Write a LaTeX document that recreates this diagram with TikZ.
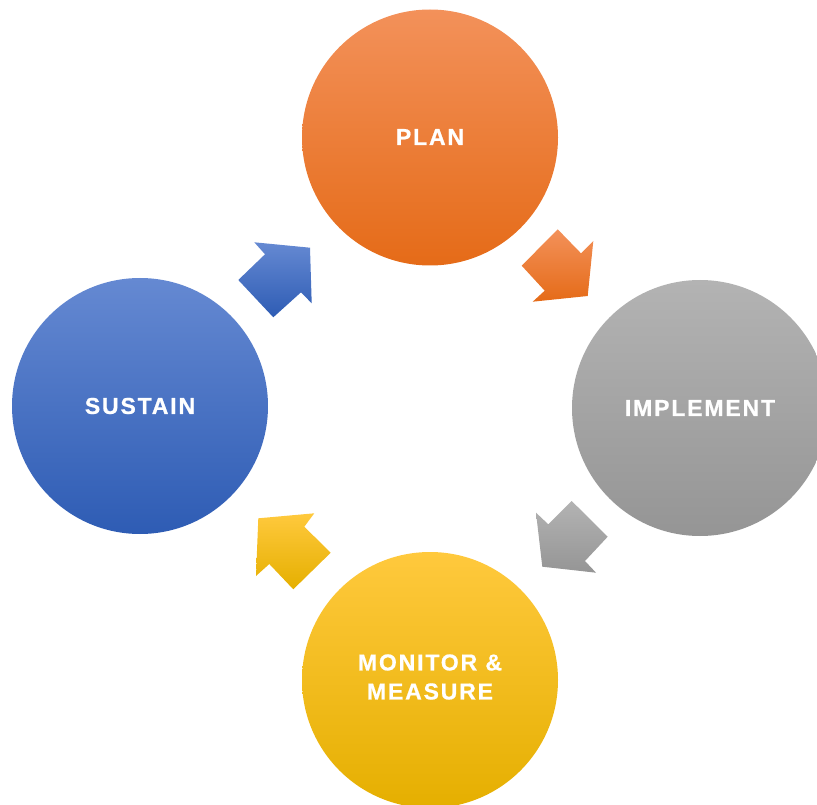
\documentclass[tikz,border=0pt]{standalone}
\usepackage{fontspec}
\newfontfamily\cyclefont[LetterSpace=8, FakeBold=0.8]{Liberation Sans Bold}
\definecolor{planT}{HTML}{F3915A}
\definecolor{planM}{HTML}{F57E2C}
\definecolor{planB}{HTML}{E56B18}
\definecolor{implT}{HTML}{B3B3B3}
\definecolor{implM}{HTML}{A5A5A5}
\definecolor{implB}{HTML}{959595}
\definecolor{monT}{HTML}{FFC93D}
\definecolor{monM}{HTML}{FFC200}
\definecolor{monB}{HTML}{E5AF00}
\definecolor{susT}{HTML}{6589D2}
\definecolor{susM}{HTML}{4472C4}
\definecolor{susB}{HTML}{2E5CB4}
\tikzset{
  stagefont/.style={text=white, font=\cyclefont\fontsize{23}{29}\selectfont, align=center},
  stage/.style={circle, minimum size=256pt, inner sep=0pt, stagefont},
  grad/.style n args={3}{top color=#1, middle color=#2, bottom color=#3, draw=none},
}
\begin{document}
\begin{tikzpicture}[x=1pt,y=-1pt]
\useasboundingbox (0,0) rectangle (817,805);
\clip (0,0) rectangle (817,805);
% the four stages of the cycle
\node[stage, grad={planT}{planM}{planB}] (plan) at (430,137.5) {\raisebox{1pt}{PLAN}};
\node[stage, grad={implT}{implM}{implB}] (impl) at (700,408) {IMPLEMENT};
\node[stage, grad={monT}{monM}{monB}] (mon) at (430,680) {};
\node[stagefont, inner sep=0pt] (montext) at (430,677) {MONITOR \&\\MEASURE};
\node[stage, grad={susT}{susM}{susB}] (sus) at (140,406) {SUSTAIN};
% block arrows between the stages
\shade[grad={planT}{planM}{planB}]
  (557.7,229.3) -- (581,253.3) -- (593.3,241) -- (587.7,296) -- (532.7,301.7)
  -- (544.7,290.7) -- (521.7,265.7) -- cycle;
\shade[grad={implT}{implM}{implB}]
  (571.7,501) -- (607.7,536.7) -- (585,561) -- (596,572.7) -- (542.3,566.7)
  -- (536,512.7) -- (548.3,524.3) -- cycle;
\shade[grad={monT}{monM}{monB}]
  (258.3,518.3) -- (314.3,513.3) -- (304.3,526.7) -- (330.7,552.7) -- (293.3,589.3)
  -- (269.3,564) -- (256,576) -- cycle;
\shade[grad={susT}{susM}{susB}]
  (254.3,242.3) -- (310,247.7) -- (311.7,303.3) -- (301,292.3) -- (273.3,317.3)
  -- (238.3,280) -- (265,254.3) -- cycle;
\end{tikzpicture}
\end{document}
